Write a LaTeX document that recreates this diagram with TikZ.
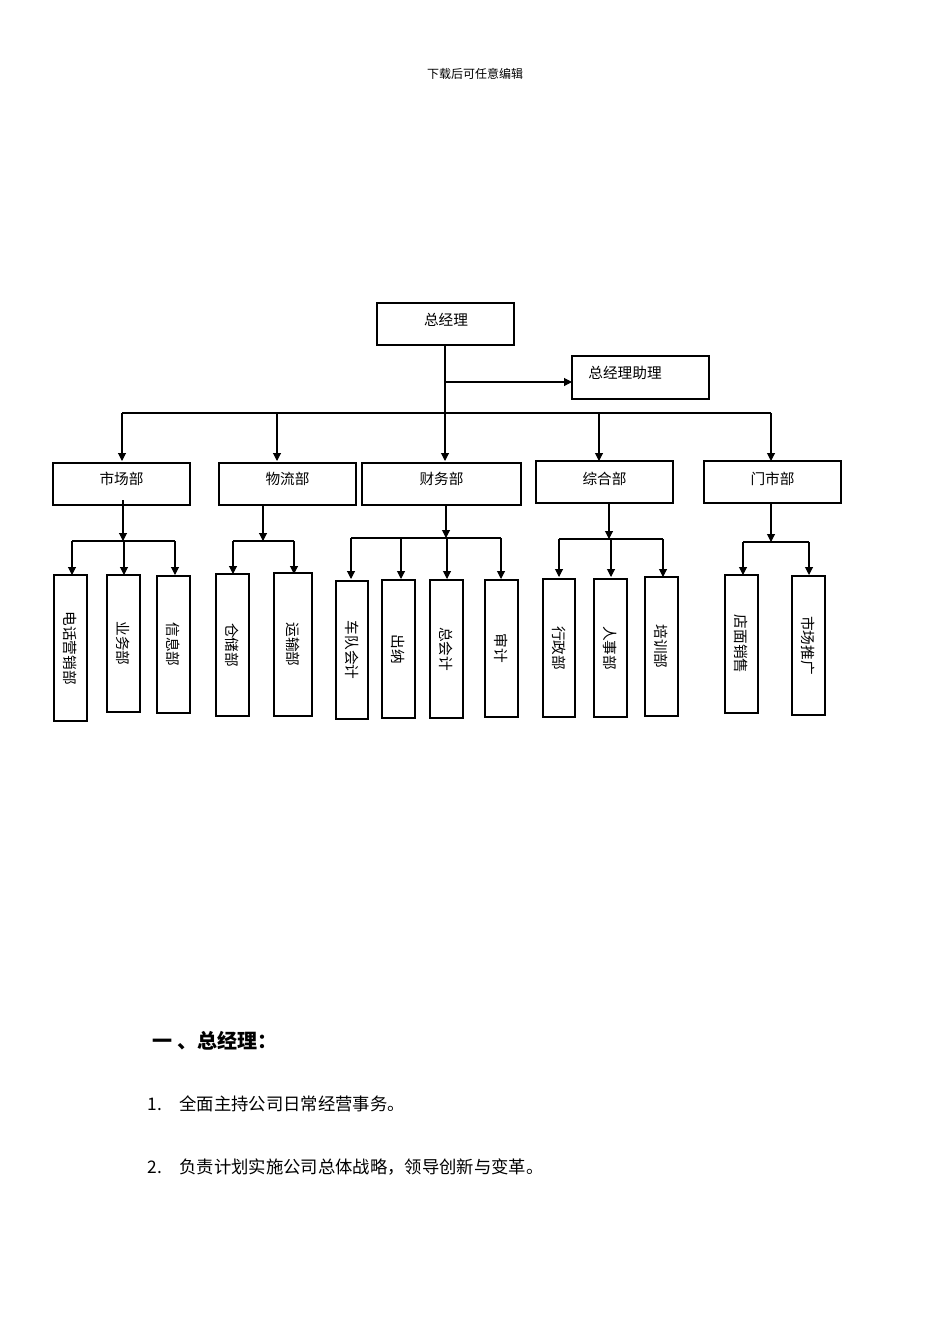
\documentclass[tikz,border=0pt]{standalone}
\usepackage{fontspec}
\newfontfamily\cjk{Noto Sans CJK SC}
\usetikzlibrary{arrows.meta}
\begin{document}
\begin{tikzpicture}[x=0.75pt,y=-0.75pt,
  box/.style={draw,thick,inner sep=0pt},
  lbl/.style={font=\cjk\fontsize{11}{13}\selectfont},
  vlbl/.style={font=\cjk\fontsize{11}{13}\selectfont,rotate=-90},
  arr/.style={thick,-{Triangle[length=6pt,width=6pt]}},
  ln/.style={thick}]
\useasboundingbox (0,0) rectangle (950,1344);
\node[font=\cjk\fontsize{9}{11}\selectfont] (hdr) at (475,74) {下载后可任意编辑};
% top
\draw[box] (377,303) rectangle (514,345); \node[lbl] (gm) at (446,320) {总经理};
\draw[box] (572,356) rectangle (709,399); \node[lbl] (as) at (625,373) {总经理助理};
\coordinate (gmb) at (445,345);
\draw[ln] (gmb) -- (445,413);
\draw[arr] (445,382) -- (572,382);
\draw[ln] (122,413) -- (771,413);
\foreach \x in {122,277,445,599,771} \draw[arr] (\x,413) -- (\x,461);
% level 2
\foreach \a/\b/\t/\c/\n in {53/190/463/市场部/m1,219/356/463/物流部/m2,362/521/463/财务部/m3,536/673/461/综合部/m4,704/841/461/门市部/m5}{
  \draw[box] (\a,\t) rectangle (\b,\t+42);
  \node[lbl] (\n) at ({(\a+\b)/2},479) {\c};
}
% leaves
\newcommand\leaf[6]{\draw[box] (#1,#3) rectangle (#2,#4); \node[vlbl] (#6) at ({(#1+#2)/2},{(#3+#4)/2}) {#5};}
\leaf{54}{87}{575}{721}{电话营销部}{l1}
\leaf{107}{140}{575}{712}{业务部}{l2}
\leaf{157}{190}{576}{713}{信息部}{l3}
\leaf{216}{249}{574}{716}{仓储部}{l4}
\leaf{274}{312}{573}{716}{运输部}{l5}
\leaf{336}{368}{581}{719}{车队会计}{l6}
\leaf{382}{415}{580}{718}{出纳}{l7}
\leaf{430}{463}{580}{718}{总会计}{l8}
\leaf{485}{518}{580}{717}{审计}{l9}
\leaf{543}{575}{579}{717}{行政部}{l10}
\leaf{594}{627}{579}{717}{人事部}{l11}
\leaf{645}{678}{577}{716}{培训部}{l12}
\leaf{725}{758}{575}{713}{店面销售}{l13}
\leaf{792}{825}{576}{715}{市场推广}{l14}
% buses
\draw[arr] (123,500) -- (123,541); \draw[ln] (72,541) -- (175,541);
\foreach \x in {72,124,175} \draw[arr] (\x,541) -- (\x,575);
\draw[arr] (263,505) -- (263,541); \draw[ln] (233,541) -- (294,541);
\foreach \x in {233,294} \draw[arr] (\x,541) -- (\x,574);
\draw[arr] (446,505) -- (446,538); \draw[ln] (351,538) -- (501,538);
\foreach \x in {351,401,447,501} \draw[arr] (\x,538) -- (\x,579);
\draw[arr] (609,503) -- (609,539); \draw[ln] (559,539) -- (663,539);
\foreach \x in {559,611,663} \draw[arr] (\x,539) -- (\x,577);
\draw[arr] (771,503) -- (771,542); \draw[ln] (743,542) -- (809,542);
\foreach \x in {743,809} \draw[arr] (\x,542) -- (\x,575);
% text
\node[anchor=west,font=\cjk\bfseries\fontsize{15}{18}\selectfont] (h1) at (148,1041) {一 、总经理：};
\node[anchor=west,font=\cjk\fontsize{13}{16}\selectfont] (p1) at (143,1104) {1.\hspace{1em}全面主持公司日常经营事务。};
\node[anchor=west,font=\cjk\fontsize{13}{16}\selectfont] (p2) at (143,1167) {2.\hspace{1em}负责计划实施公司总体战略，领导创新与变革。};
\end{tikzpicture}
\end{document}
